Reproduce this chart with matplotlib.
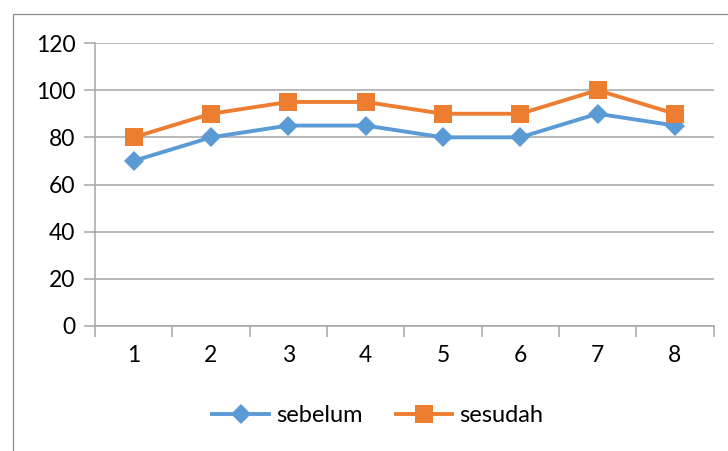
import matplotlib.pyplot as plt
from matplotlib.patches import Rectangle

plt.rcParams['font.family'] = ['Lato', 'DejaVu Sans']

categories = ['1', '2', '3', '4', '5', '6', '7', '8']
sebelum = [70, 80, 85, 85, 80, 80, 90, 85]
sesudah = [80, 90, 95, 95, 90, 90, 100, 90]

blue = '#5B9BD5'
orange = '#ED7D31'
grid_grey = '#A6A6A6'

fig = plt.figure(figsize=(7.28, 4.51), dpi=100)
ax = fig.add_axes([95 / 728, 1 - 326 / 451, 618.5 / 728, 283 / 451])

# outer chart border (cut off at right and bottom, like the screenshot)
fig.patches.append(Rectangle((12.5 / 728, -0.2), 1.2, 0.2 + 1 - 13.5 / 451,
                             transform=fig.transFigure, fill=False,
                             edgecolor='#8C8C8C', linewidth=0.9))

x = list(range(len(categories)))
ax.plot(x, sebelum, color=blue, linewidth=2.8, marker='D', markersize=10.5,
        markeredgewidth=0, label='sebelum', zorder=3)
ax.plot(x, sesudah, color=orange, linewidth=2.8, marker='s', markersize=13,
        markeredgewidth=0, label='sesudah', zorder=4)

ax.set_xlim(-0.5, len(categories) - 0.5)
ax.set_ylim(0, 120)
ax.set_yticks(range(0, 121, 20))
ax.set_xticks(x)
ax.set_xticklabels(categories)
ax.set_xticks([i - 0.5 for i in range(len(categories) + 1)], minor=True)

ax.grid(axis='y', color=grid_grey, linewidth=1.1)
ax.set_axisbelow(True)
for s in ['top', 'right']:
    ax.spines[s].set_visible(False)
for s in ['left', 'bottom']:
    ax.spines[s].set_color(grid_grey)
    ax.spines[s].set_linewidth(1.1)

ax.tick_params(axis='y', length=8, color=grid_grey, width=1.1,
               labelsize=16.5, pad=6)
ax.tick_params(axis='x', which='major', length=0, labelsize=16.5, pad=14)
ax.tick_params(axis='x', which='minor', length=8, color=grid_grey, width=1.1)

ax.legend(loc='center', bbox_to_anchor=(378 / 728, 1 - 416 / 451),
          bbox_transform=fig.transFigure, ncol=2, frameon=False,
          fontsize=17, handlelength=2.4, handletextpad=0.3,
          columnspacing=1.4)

fig.savefig('out.png', dpi=100)
